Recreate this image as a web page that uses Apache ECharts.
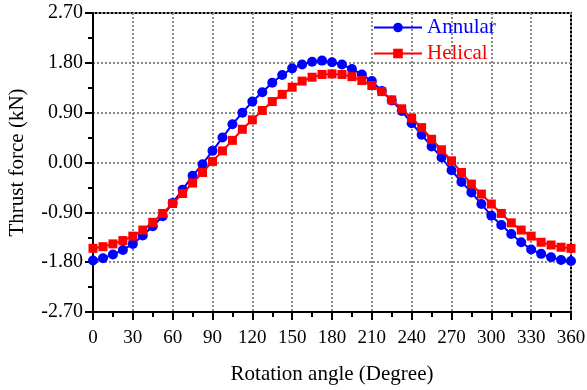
<!DOCTYPE html>
<html>
<head>
<meta charset="utf-8">
<script src="https://cdn.jsdelivr.net/npm/echarts@6/dist/echarts.min.js"></script>
<style>
  html, body { margin: 0; padding: 0; background: #fff; }
  #chart { width: 587px; height: 390px; }
</style>
</head>
<body>
<div id="chart"></div>
<script>
// Rotation angle (degrees), sampled every 7.5°
const angles = [
  0, 7.5, 15, 22.5, 30, 37.5, 45, 52.5, 60, 67.5, 75, 82.5, 90,
  97.5, 105, 112.5, 120, 127.5, 135, 142.5, 150, 157.5, 165, 172.5, 180,
  187.5, 195, 202.5, 210, 217.5, 225, 232.5, 240, 247.5, 255, 262.5, 270,
  277.5, 285, 292.5, 300, 307.5, 315, 322.5, 330, 337.5, 345, 352.5, 360
];

// Thrust force (kN), annular groove
const annular = [
  -1.77, -1.73, -1.66, -1.58, -1.47, -1.32, -1.15, -0.97, -0.73, -0.49, -0.24, -0.03, 0.21,
  0.45, 0.69, 0.90, 1.10, 1.27, 1.44, 1.58, 1.70, 1.77, 1.82, 1.84, 1.81,
  1.77, 1.69, 1.59, 1.47, 1.29, 1.12, 0.93, 0.71, 0.50, 0.29, 0.09, -0.14,
  -0.35, -0.54, -0.75, -0.96, -1.13, -1.29, -1.44, -1.57, -1.65, -1.71, -1.76, -1.78
];

// Thrust force (kN), helical groove
const helical = [
  -1.55, -1.52, -1.47, -1.41, -1.33, -1.22, -1.08, -0.92, -0.74, -0.56, -0.37, -0.18, 0.02,
  0.21, 0.40, 0.60, 0.77, 0.94, 1.10, 1.23, 1.36, 1.47, 1.54, 1.59, 1.60,
  1.59, 1.55, 1.48, 1.39, 1.28, 1.13, 0.97, 0.80, 0.63, 0.42, 0.23, 0.03,
  -0.18, -0.39, -0.57, -0.75, -0.92, -1.09, -1.22, -1.33, -1.44, -1.49, -1.53, -1.55
];

const seriesNames = ['Annular', 'Helical'];
const seriesColors = ['#0000ff', '#ff0000'];

const FONT = '"Liberation Serif", "Times New Roman", serif';
const pairs = (ys) => angles.map((a, i) => [a, ys[i]]);

const chart = echarts.init(document.getElementById('chart'), null, { renderer: 'canvas' });

const gridLine = { show: true, lineStyle: { color: '#8a8a8a', width: 2, type: [2, 2] } };

chart.setOption({
  animation: false,
  backgroundColor: '#ffffff',
  grid: {
    left: 93, right: 16, top: 13, bottom: 78,
    containLabel: false,
    outerBoundsMode: 'none',
    show: true, borderColor: '#000', borderWidth: 2, backgroundColor: 'transparent'
  },
  legend: {
    orient: 'vertical',
    left: 368,
    top: 12,
    itemWidth: 48,
    itemHeight: 12,
    itemGap: 5,
    data: [
      { name: seriesNames[0], textStyle: { color: seriesColors[0] } },
      { name: seriesNames[1], textStyle: { color: seriesColors[1] } }
    ],
    textStyle: { fontFamily: FONT, fontSize: 21 }
  },
  xAxis: {
    type: 'value',
    min: 0, max: 360, interval: 30,
    name: 'Rotation angle (Degree)',
    nameLocation: 'middle',
    nameGap: 52,
    nameTextStyle: { fontFamily: FONT, fontSize: 21, color: '#000' },
    axisLine: { show: true, onZero: false, lineStyle: { color: '#000', width: 2 } },
    axisTick: { show: true, inside: false, length: 8, lineStyle: { color: '#000', width: 2 } },
    minorTick: { show: true, splitNumber: 2, length: 5, lineStyle: { color: '#000', width: 2 } },
    axisLabel: { fontFamily: FONT, fontSize: 19, color: '#000', margin: 17 },
    splitLine: gridLine
  },
  yAxis: {
    type: 'value',
    min: -2.7, max: 2.7, interval: 0.9,
    name: 'Thrust force (kN)',
    nameLocation: 'middle',
    nameGap: 65,
    nameTextStyle: { fontFamily: FONT, fontSize: 21, color: '#000' },
    axisLine: { show: true, onZero: false, lineStyle: { color: '#000', width: 2 } },
    axisTick: { show: true, inside: false, length: 8, lineStyle: { color: '#000', width: 2 } },
    minorTick: { show: true, splitNumber: 2, length: 5, lineStyle: { color: '#000', width: 2 } },
    axisLabel: {
      fontFamily: FONT, fontSize: 20, color: '#000', margin: 10,
      formatter: (v) => v.toFixed(2)
    },
    splitLine: gridLine
  },
  series: [
    {
      name: seriesNames[0],
      type: 'line',
      data: pairs(annular),
      symbol: 'circle',
      symbolSize: 10,
      showAllSymbol: true,
      color: seriesColors[0],
      lineStyle: { color: seriesColors[0], width: 2 },
      itemStyle: { color: seriesColors[0] },
      z: 3
    },
    {
      name: seriesNames[1],
      type: 'line',
      data: pairs(helical),
      symbol: 'rect',
      symbolSize: 9,
      showAllSymbol: true,
      color: seriesColors[1],
      lineStyle: { color: seriesColors[1], width: 2 },
      itemStyle: { color: seriesColors[1] },
      z: 4
    }
  ]
});
</script>
</body>
</html>
